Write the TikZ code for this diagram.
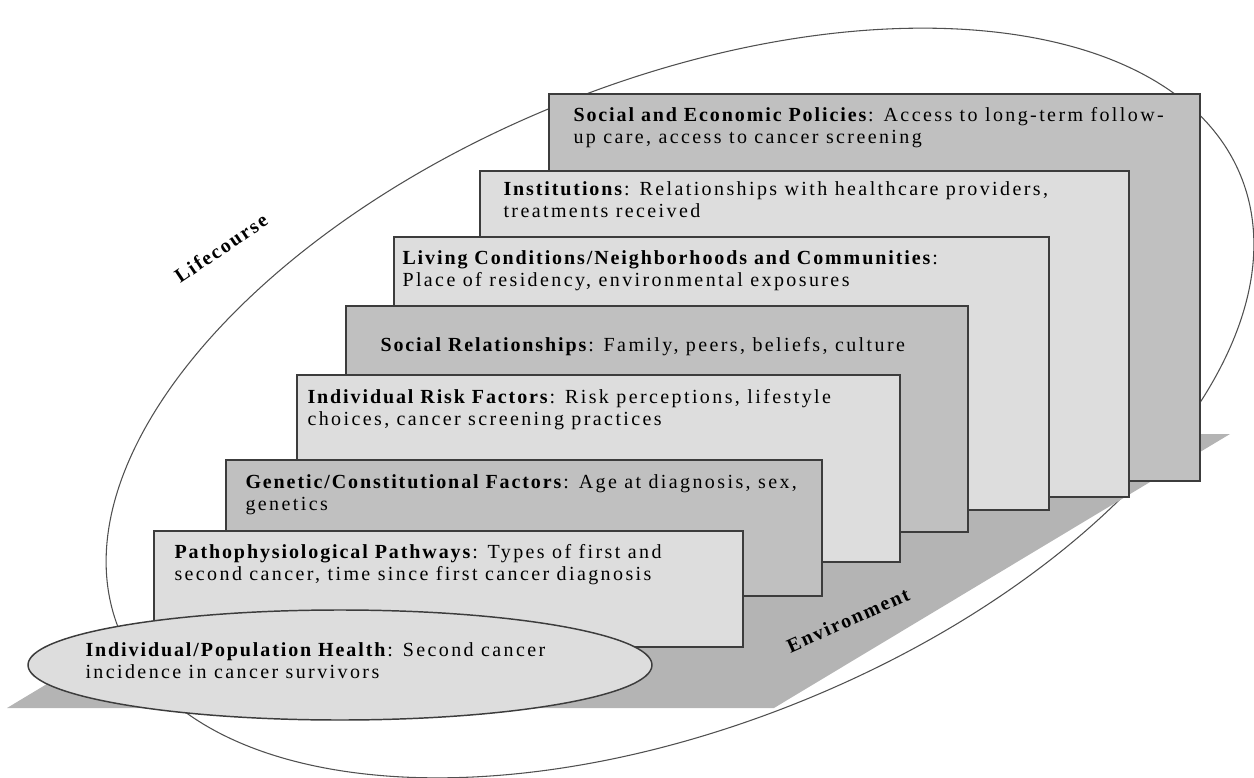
\documentclass[tikz,border=0pt]{standalone}
\usepackage{fontspec}
\setmainfont{Liberation Serif}[LetterSpace=12,BoldFeatures={LetterSpace=9.5}]
\definecolor{lightfill}{RGB}{221,221,221}
\definecolor{darkfill}{RGB}{192,192,192}
\definecolor{envfill}{RGB}{180,180,180}
\definecolor{edgegray}{RGB}{60,60,60}
\definecolor{ringgray}{RGB}{80,80,80}

\tikzset{every picture/.style={line width=0.75pt}}
\tikzset{
  lightbox/.style={draw=edgegray,fill=lightfill,line width=1.1pt},
  darkbox/.style={draw=edgegray,fill=darkfill,line width=1.1pt},
  boxtext/.style={anchor=base west,inner sep=0pt,align=left,font=\fontsize{15}{16}\selectfont},
  sidetext/.style={inner sep=0.75pt,font=\fontsize{15}{16}\selectfont\bfseries}
}

\begin{document}
\begin{tikzpicture}[x=0.75pt,y=0.75pt,yscale=-1,xscale=1]
        \useasboundingbox (0,0) rectangle (1254,778);

        %Shape: Ellipse [id:lifecourse ring]
        \draw [color=ringgray,line width=0.8pt,rotate around={-22:(680,403)}] (680,403) ellipse (605 and 322);
        %Shape: Polygon [id:environment floor]
        \fill [envfill] (7,708) -- (774,708) -- (1230,434) -- (463,434) -- cycle;

        % base anchor = baseline of the last text line
        %Shape: Rectangle [id:policies]
        \draw [darkbox] (549,94) rectangle (1200,481);
        % Text Node
        \node [boxtext] (policies) at (573,143) {\textbf{Social and Economic Policies}: Access to long-term follow-\\up care, access to cancer screening};
        %Shape: Rectangle [id:institutions]
        \draw [lightbox] (480,171) rectangle (1129,497);
        % Text Node
        \node [boxtext] (institutions) at (503,217) {\textbf{Institutions}: Relationships with healthcare providers,\\treatments received};
        %Shape: Rectangle [id:living]
        \draw [lightbox] (394,237) rectangle (1049,510);
        % Text Node
        \node [boxtext] (living) at (402,286) {\textbf{Living Conditions/Neighborhoods and Communities}:\\Place of residency, environmental exposures};
        %Shape: Rectangle [id:social]
        \draw [darkbox] (346,306) rectangle (968,532);
        % Text Node
        \node [boxtext] (social) at (380,351) {\textbf{Social Relationships}: Family, peers, beliefs, culture};
        %Shape: Rectangle [id:risk]
        \draw [lightbox] (297,375) rectangle (900,562);
        % Text Node
        \node [boxtext] (risk) at (307,425) {\textbf{Individual Risk Factors}: Risk perceptions, lifestyle\\choices, cancer screening practices};
        %Shape: Rectangle [id:genetic]
        \draw [darkbox] (226,460) rectangle (822,596);
        % Text Node
        \node [boxtext] (genetic) at (245,510) {\textbf{Genetic/Constitutional Factors}: Age at diagnosis, sex,\\genetics};
        %Shape: Rectangle [id:patho]
        \draw [lightbox] (154,531) rectangle (743,647);
        % Text Node
        \node [boxtext] (patho) at (174,580) {\textbf{Pathophysiological Pathways}: Types of first and\\second cancer, time since first cancer diagnosis};
        %Shape: Ellipse [id:health]
        \draw [lightbox] (340,665) ellipse (312 and 55);
        % Text Node
        \node [boxtext] (health) at (85,678) {\textbf{Individual/Population Health}: Second cancer\\incidence in cancer survivors};

        % Text Node
        \node [sidetext,rotate=34] (lifecourse) at (221,248) {Lifecourse};
        % Text Node
        \node [sidetext,rotate=24] (environment) at (848,620) {Environment};

\end{tikzpicture}
\end{document}
